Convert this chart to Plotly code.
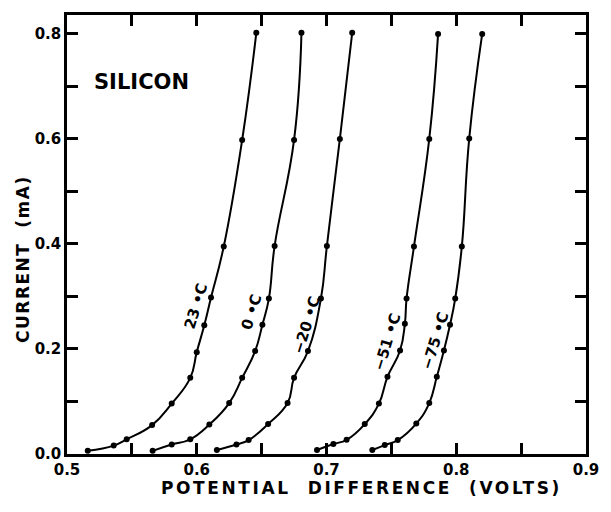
import plotly.graph_objects as go

# Data: potential difference (V) vs current (mA)
v_23 = [0.516, 0.536, 0.546, 0.5656, 0.5807, 0.595, 0.600, 0.6058, 0.611, 0.6208, 0.635, 0.6459]
i_23 = [0.006, 0.016, 0.028, 0.055, 0.096, 0.145, 0.194, 0.245, 0.298, 0.395, 0.598, 0.802]

v_0 = [0.566, 0.5807, 0.595, 0.6097, 0.625, 0.635, 0.645, 0.6506, 0.6556, 0.660, 0.675, 0.6807]
i_0 = [0.006, 0.018, 0.028, 0.056, 0.097, 0.145, 0.196, 0.246, 0.296, 0.396, 0.598, 0.802]

v_m20 = [0.6155, 0.6306, 0.640, 0.655, 0.670, 0.675, 0.6857, 0.6957, 0.7003, 0.7103, 0.7198]
i_m20 = [0.0076, 0.018, 0.0265, 0.057, 0.097, 0.145, 0.196, 0.296, 0.396, 0.600, 0.802]

v_m51 = [0.6927, 0.7053, 0.7155, 0.7295, 0.7404, 0.747, 0.7567, 0.7604, 0.7617, 0.7674, 0.7792, 0.786]
i_m51 = [0.0076, 0.019, 0.027, 0.057, 0.096, 0.147, 0.197, 0.248, 0.296, 0.395, 0.600, 0.800]

v_m75 = [0.7353, 0.7449, 0.7549, 0.7692, 0.7792, 0.785, 0.7905, 0.7952, 0.7992, 0.8043, 0.810, 0.820]
i_m75 = [0.0076, 0.017, 0.0265, 0.058, 0.097, 0.147, 0.197, 0.246, 0.296, 0.395, 0.601, 0.800]

series = [
    ("23 \u2022C", v_23, i_23, 0.5992, 0.2825),
    ("0 \u2022C", v_0, i_0, 0.6421, 0.271),
    ("\u221220 \u2022C", v_m20, i_m20, 0.6842, 0.2445),
    ("\u221251 \u2022C", v_m51, i_m51, 0.7466, 0.214),
    ("\u221275 \u2022C", v_m75, i_m75, 0.7835, 0.216),
]

x_ticks = [0.5, 0.6, 0.7, 0.8, 0.9]
y_ticks = [0.0, 0.2, 0.4, 0.6, 0.8]

FONT = "DejaVu Sans"

fig = go.Figure()
for name, xs, ys, lx, ly in series:
    fig.add_trace(go.Scatter(
        x=xs, y=ys, mode="lines+markers", name=name,
        line=dict(color="black", width=2, shape="spline", smoothing=1.3),
        marker=dict(color="black", size=6),
        showlegend=False,
    ))
    fig.add_annotation(x=lx, y=ly, text=f"<b>{name}</b>", showarrow=False,
                       textangle=-73, font=dict(family=FONT, size=15, color="black"))

fig.add_annotation(x=0.5195, y=0.709, text="<b>SILICON</b>", showarrow=False,
                   xanchor="left", yanchor="middle",
                   font=dict(family=FONT, size=21, color="black"))

fig.add_annotation(xref="paper", yref="paper", x=-0.085, y=0.444,
                   xanchor="center", yanchor="middle",
                   text="<span style='letter-spacing:1.5px'><b>CURRENT\u00a0\u00a0(mA)</b></span>",
                   showarrow=False, textangle=-90,
                   font=dict(family=FONT, size=17, color="black"))
fig.add_annotation(xref="paper", yref="paper", x=0.567, y=-0.0785,
                   xanchor="center", yanchor="middle",
                   text="<span style='letter-spacing:2.6px'><b>POTENTIAL\u00a0\u00a0DIFFERENCE\u00a0\u00a0(VOLTS)</b></span>",
                   showarrow=False,
                   font=dict(family=FONT, size=17, color="black"))

axis_common = dict(
    showgrid=False, zeroline=False, showline=True, linecolor="black", linewidth=2.5,
    mirror="ticks", ticks="inside", ticklen=11, tickwidth=2.5, tickcolor="black",
    tickfont=dict(family=FONT, size=15, color="black"),
)

fig.update_xaxes(range=[0.5, 0.9], tickvals=x_ticks, ticktext=[f"<b>{v:.1f}</b>" for v in x_ticks],
                 minor=dict(dtick=0.05, tick0=0.5, ticks="inside", ticklen=11, tickwidth=2.5,
                            tickcolor="black", showgrid=False),
                 **axis_common)
fig.update_yaxes(range=[0, 0.836], tickvals=y_ticks, ticktext=[f"<b>{v:.1f}</b>" for v in y_ticks],
                 minor=dict(dtick=0.1, tick0=0, ticks="inside", ticklen=11, tickwidth=2.5,
                            tickcolor="black", showgrid=False),
                 **axis_common)

fig.update_layout(
    width=611, height=512,
    margin=dict(l=67, r=13, t=13, b=58),
    plot_bgcolor="white", paper_bgcolor="white",
    font=dict(family=FONT, color="black"),
)

fig.write_html("out.html", config={"displayModeBar": False},
               post_script="document.body.style.margin='0';document.body.style.overflow='hidden';")
